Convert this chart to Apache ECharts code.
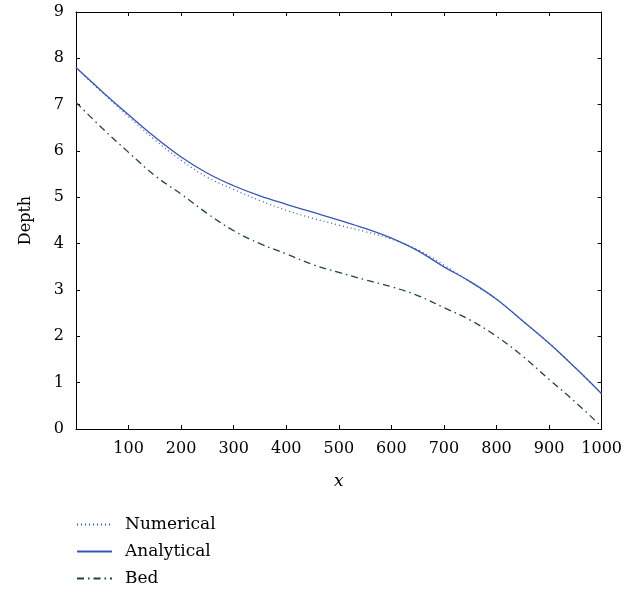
<!DOCTYPE html>
<html>
<head>
<meta charset="utf-8">
<script src="https://cdn.jsdelivr.net/npm/echarts@6/dist/echarts.min.js"></script>
<style>
html,body{margin:0;padding:0;background:#fff;}
#c{width:625px;height:590px;}
</style>
</head>
<body>
<div id="c"></div>
<script>
var xs = [0,50,100,150,200,250,300,350,400,450,500,550,600,650,700,750,800,850,900,950,1000];
var numerical  = [7.80,7.26,6.74,6.24,5.80,5.43,5.17,4.93,4.72,4.55,4.40,4.26,4.10,3.87,3.54,3.17,2.80,2.33,1.85,1.32,0.76];
var analytical = [7.80,7.28,6.78,6.30,5.87,5.52,5.25,5.03,4.85,4.68,4.51,4.33,4.12,3.85,3.50,3.18,2.80,2.33,1.85,1.32,0.76];
var bed        = [7.05,6.49,5.97,5.47,5.07,4.65,4.28,4.00,3.78,3.55,3.38,3.22,3.07,2.88,2.62,2.35,2.00,1.57,1.07,0.58,0.05];
var seriesNames = ["Numerical","Analytical","Bed"];

function pairs(v){ return xs.map(function(x,i){ return [x, v[i]]; }); }

var font = "'DejaVu Serif', 'Liberation Serif', serif";
var chart = echarts.init(document.getElementById('c'));
var axisLine = {show:true, onZero:false, lineStyle:{color:'#000', width:1}};
var tick = {show:true, inside:true, length:4, lineStyle:{color:'#000'}};
chart.setOption({
  animation:false,
  textStyle:{fontFamily:font},
  grid:{left:76, right:20, top:12, bottom:161, containLabel:false},
  xAxis:[{
    type:'value', min:0, max:1000, interval:100, position:'bottom',
    axisLine:axisLine, splitLine:{show:false}, axisTick:tick,
    axisLabel:{color:'#000', fontSize:16, fontFamily:font, margin:12,
      formatter:function(v){ return v===0 ? '' : String(v); }},
    name:'x', nameLocation:'middle', nameGap:44,
    nameTextStyle:{color:'#000', fontSize:17, fontStyle:'italic', fontFamily:font}
  },{
    type:'value', min:0, max:1000, interval:100, position:'top',
    axisLine:axisLine, splitLine:{show:false}, axisTick:tick,
    axisLabel:{show:false}
  }],
  yAxis:[{
    type:'value', min:0, max:9, interval:1, position:'left',
    axisLine:axisLine, splitLine:{show:false}, axisTick:tick,
    axisLabel:{color:'#000', fontSize:16, fontFamily:font, margin:12},
    name:'Depth', nameLocation:'middle', nameGap:42, nameRotate:90,
    nameTextStyle:{color:'#000', fontSize:16, fontFamily:font}
  },{
    type:'value', min:0, max:9, interval:1, position:'right',
    axisLine:axisLine, splitLine:{show:false}, axisTick:tick,
    axisLabel:{show:false}
  }],
  legend:{
    orient:'vertical', left:76, top:516, height:74, padding:0,
    itemWidth:35, itemHeight:10, itemGap:10,
    data:seriesNames,
    itemStyle:{opacity:0},
    textStyle:{color:'#000', fontSize:17, fontFamily:font, padding:[0,0,0,8]}
  },
  series:[{
    name:seriesNames[0], type:'line', data:pairs(numerical), symbol:'none', smooth:0.4,
    lineStyle:{color:'#3355bb', width:1.2, type:[1,3]}, itemStyle:{color:'#3355bb'}, z:3
  },{
    name:seriesNames[1], type:'line', data:pairs(analytical), symbol:'none', smooth:0.4,
    lineStyle:{color:'#3456b8', width:1.3, type:'solid'}, itemStyle:{color:'#3456b8'}, z:2
  },{
    name:seriesNames[2], type:'line', data:pairs(bed), symbol:'none', smooth:0.4,
    lineStyle:{color:'#1b4a30', width:1.3, type:[7,4,1.5,4]}, itemStyle:{color:'#1b4a30'}, z:2
  }]
});
</script>
</body>
</html>
